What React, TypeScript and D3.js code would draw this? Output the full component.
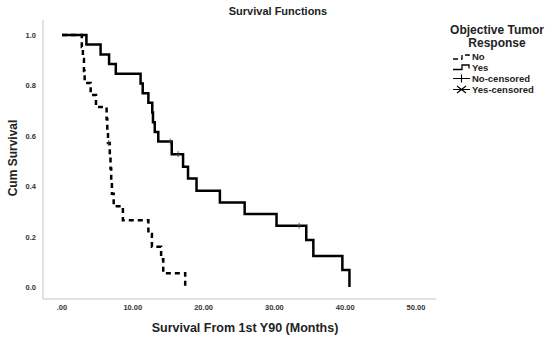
import React, { useEffect, useRef } from 'react';
import * as d3 from 'd3';

// Kaplan-Meier steps: [months, cum survival after the event]
const noSteps: [number, number][] = [
  [0, 1], [2.8, 0.952], [2.95, 0.905], [3.1, 0.857], [3.2, 0.81], [4.05, 0.762],
  [4.8, 0.714], [6.3, 0.667], [6.4, 0.619], [6.5, 0.571], [6.75, 0.52], [6.85, 0.47],
  [6.95, 0.42], [7.05, 0.37], [7.3, 0.32], [8.6, 0.265], [12.2, 0.21], [12.7, 0.16],
  [14.0, 0.11], [14.3, 0.055], [17.4, 0],
];
const yesSteps: [number, number][] = [
  [0, 1], [3.45, 0.962], [5.45, 0.923], [6.65, 0.885], [7.6, 0.846], [11.1, 0.808],
  [11.4, 0.769], [12.2, 0.731], [12.75, 0.692], [12.85, 0.654], [13.1, 0.615],
  [13.6, 0.577], [15.5, 0.527], [17.1, 0.477], [17.8, 0.431], [19.0, 0.382],
  [22.3, 0.335], [25.8, 0.29], [30.3, 0.243], [34.5, 0.187], [35.5, 0.123],
  [39.6, 0.067], [40.6, 0],
];
const noCensored: [number, number][] = [[6.6, 0.571]];
const yesCensored: [number, number][] = [[15.3, 0.577], [16.4, 0.527], [33.5, 0.243]];

const xTicks = [0, 10, 20, 30, 40, 50];
const yTicks = [0, 0.2, 0.4, 0.6, 0.8, 1.0];
const legendLabels = ['No', 'Yes', 'No-censored', 'Yes-censored'];

const FONT = '"Liberation Sans", Arial, sans-serif';

export default function App() {
  const ref = useRef<SVGSVGElement>(null);

  useEffect(() => {
    const svg = d3.select(ref.current);
    svg.selectAll('*').remove();

    const x = d3.scaleLinear().domain([0, 50]).range([62, 416]);
    const y = d3.scaleLinear().domain([0, 1]).range([287, 35]);

    // frame
    const left = 43, right = 436, top = 20, bottom = 299;
    svg.append('line').attr('x1', left).attr('x2', left).attr('y1', top).attr('y2', bottom)
      .attr('stroke', '#c4c4c4').attr('stroke-width', 1);
    svg.append('line').attr('x1', left).attr('x2', right).attr('y1', bottom).attr('y2', bottom)
      .attr('stroke', '#c4c4c4').attr('stroke-width', 1);

    // tick labels
    svg.selectAll('text.yt').data(yTicks).enter().append('text')
      .attr('x', 36).attr('y', d => y(d) + 3)
      .attr('text-anchor', 'end')
      .style('font', `bold 7.5px ${FONT}`).attr('fill', '#333')
      .text(d => d3.format('.1f')(d));
    svg.selectAll('text.xt').data(xTicks).enter().append('text')
      .attr('x', d => x(d)).attr('y', 310)
      .attr('text-anchor', 'middle')
      .style('font', `bold 7.5px ${FONT}`).attr('fill', '#333')
      .text(d => d === 0 ? '.00' : d3.format('.2f')(d));

    // titles
    svg.append('text').attr('x', 278).attr('y', 15).attr('text-anchor', 'middle')
      .style('font', `bold 11px ${FONT}`).attr('fill', '#222').text('Survival Functions');
    svg.append('text').attr('x', 245).attr('y', 332).attr('text-anchor', 'middle')
      .style('font', `bold 12.5px ${FONT}`).attr('fill', '#222').text('Survival From 1st Y90 (Months)');
    svg.append('text').attr('transform', 'translate(17,158) rotate(-90)').attr('text-anchor', 'middle')
      .style('font', `bold 12px ${FONT}`).attr('fill', '#222').text('Cum Survival');

    // curves
    const line = d3.line<[number, number]>()
      .x(d => x(d[0])).y(d => y(d[1]))
      .curve(d3.curveStepAfter);

    svg.append('path').attr('d', line(noSteps))
      .attr('fill', 'none').attr('stroke', '#000').attr('stroke-width', 2.5)
      .attr('stroke-dasharray', '5,4');
    svg.append('path').attr('d', line(yesSteps))
      .attr('fill', 'none').attr('stroke', '#000').attr('stroke-width', 2.5);

    // censor marks
    const cens = noCensored.concat(yesCensored);
    svg.selectAll('path.cens').data(cens).enter().append('path')
      .attr('d', d => `M${x(d[0])},${y(d[1]) - 3}V${y(d[1]) + 3}M${x(d[0]) - 2},${y(d[1])}H${x(d[0]) + 2}`)
      .attr('stroke', '#333').attr('stroke-width', 0.8).attr('fill', 'none');

    // legend
    const lg = svg.append('g');
    lg.append('text').attr('x', 497).attr('y', 34).attr('text-anchor', 'middle')
      .style('font', `bold 12px ${FONT}`).attr('fill', '#222').text('Objective Tumor');
    lg.append('text').attr('x', 497).attr('y', 46.5).attr('text-anchor', 'middle')
      .style('font', `bold 12px ${FONT}`).attr('fill', '#222').text('Response');

    const rowY = [60, 70.5, 81.5, 92.5];
    lg.selectAll('text.li').data(legendLabels).enter().append('text')
      .attr('x', 472).attr('y', (_, i) => rowY[i])
      .style('font', `bold 9.5px ${FONT}`).attr('fill', '#222')
      .text(d => d);

    const sx = 453;
    lg.append('path')
      .attr('d', `M${sx},${rowY[0] - 1}H${sx + 9}V${rowY[0] - 5}H${sx + 16}V${rowY[0] - 2}`)
      .attr('fill', 'none').attr('stroke', '#000').attr('stroke-width', 1.3).attr('stroke-dasharray', '5,3');
    lg.append('path')
      .attr('d', `M${sx},${rowY[1] - 1}H${sx + 9}V${rowY[1] - 5.5}H${sx + 16}V${rowY[1] - 2}`)
      .attr('fill', 'none').attr('stroke', '#000').attr('stroke-width', 1.3);
    lg.append('path')
      .attr('d', `M${sx},${rowY[2] - 3}H${sx + 17}M${sx + 8.5},${rowY[2] - 7}V${rowY[2] + 1}`)
      .attr('fill', 'none').attr('stroke', '#000').attr('stroke-width', 1.1);
    lg.append('path')
      .attr('d', `M${sx},${rowY[3] - 3}H${sx + 17}M${sx + 4},${rowY[3] - 6.5}L${sx + 13},${rowY[3] + 0.5}M${sx + 4},${rowY[3] + 0.5}L${sx + 13},${rowY[3] - 6.5}`)
      .attr('fill', 'none').attr('stroke', '#000').attr('stroke-width', 1.1);
  }, []);

  return (
    <svg ref={ref} width={550} height={341}
      style={{ position: 'absolute', left: 0, top: 0, background: '#fff' }} />
  );
}
